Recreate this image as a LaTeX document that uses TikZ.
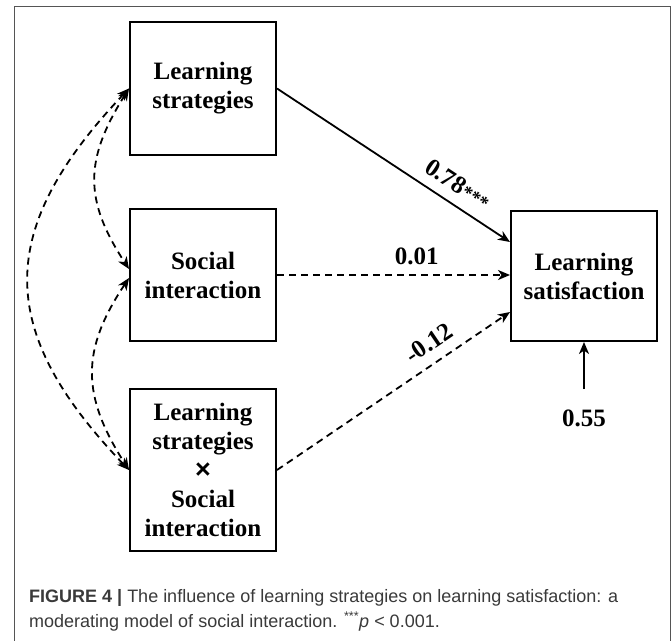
\documentclass[tikz,border=0pt]{standalone}
\usepackage{fontspec}
\setmainfont{Liberation Serif}
\newfontfamily\capfont{Liberation Sans}
\usetikzlibrary{arrows.meta}
\definecolor{capgray}{HTML}{3A3A3A}
\definecolor{framegray}{HTML}{555555}

\tikzset{
  var/.style={draw, line width=2pt, minimum width=146pt, inner sep=0pt,
    align=center, font=\fontsize{25}{29}\selectfont\bfseries},
  sig/.style={line width=1.8pt, -{Stealth[length=12pt,width=10pt,inset=3.5pt]}},
  nsig/.style={sig, dash pattern=on 7pt off 5pt},
  cov/.style={nsig, {Stealth[length=12pt,width=10pt,inset=3.5pt]}-{Stealth[length=12pt,width=10pt,inset=3.5pt]}},
  coef/.style={font=\fontsize{25}{29}\selectfont\bfseries},
  capline/.style={anchor=base west, inner sep=0pt, text=capgray,
    font=\capfont\fontsize{18}{25}\selectfont}
}

\begin{document}
\begin{tikzpicture}[x=1pt,y=-1pt]
    \useasboundingbox[fill=white] (0,0) rectangle (672,640);
    \draw[framegray, line width=1pt] (14,6) rectangle (670,660);

    \node[var, minimum height=133pt] (ls) at (203,88.5) {Learning\\strategies};
    \node[var, minimum height=132pt] (si) at (203,275) {Social\\interaction};
    \node[var, minimum height=162pt] (lsxsi) at (203,470)
        {Learning\\strategies\\{\capfont\fontsize{27}{29}\selectfont\texttimes}\\Social\\interaction};
    \node[var, minimum height=130pt] (lsat) at (584,276) {Learning\\satisfaction};

    \draw[sig] (ls.east) -- ([yshift=34pt]lsat.west)
        node[coef, pos=0.73, sloped, above=7pt] {0.78{\fontsize{19}{20}\selectfont***}};
    \draw[nsig] (si.east) -- (lsat.west |- si.east)
        node[coef, pos=0.6, above=6pt] {0.01};
    \draw[nsig] (lsxsi.east) -- ([yshift=-36pt]lsat.west)
        node[coef, pos=0.7, sloped, above=7pt] {-0.12};

    \node[coef] (err) at (584,418) {0.55};
    \coordinate (etail) at (584,389);
    \draw[sig] (etail) -- (lsat.south);

    \draw[cov] (ls.west) .. controls (84,160) and (84,200) .. ([yshift=6pt]si.west);
    \draw[cov] ([yshift=-3pt]si.west) .. controls (81,350) and (81,395) .. (lsxsi.west);
    \draw[cov] (ls.west) .. controls (-5,230) and (-5,330) .. (lsxsi.west);

    \node[capline] (cap1) at (29,602) {\textbf{FIGURE 4 |} The influence of learning strategies on learning satisfaction: a};
    \node[capline] (cap2) at (29,627) {moderating model of social interaction. \textsuperscript{***}\textit{p} < 0.001.};
\end{tikzpicture}
\end{document}
